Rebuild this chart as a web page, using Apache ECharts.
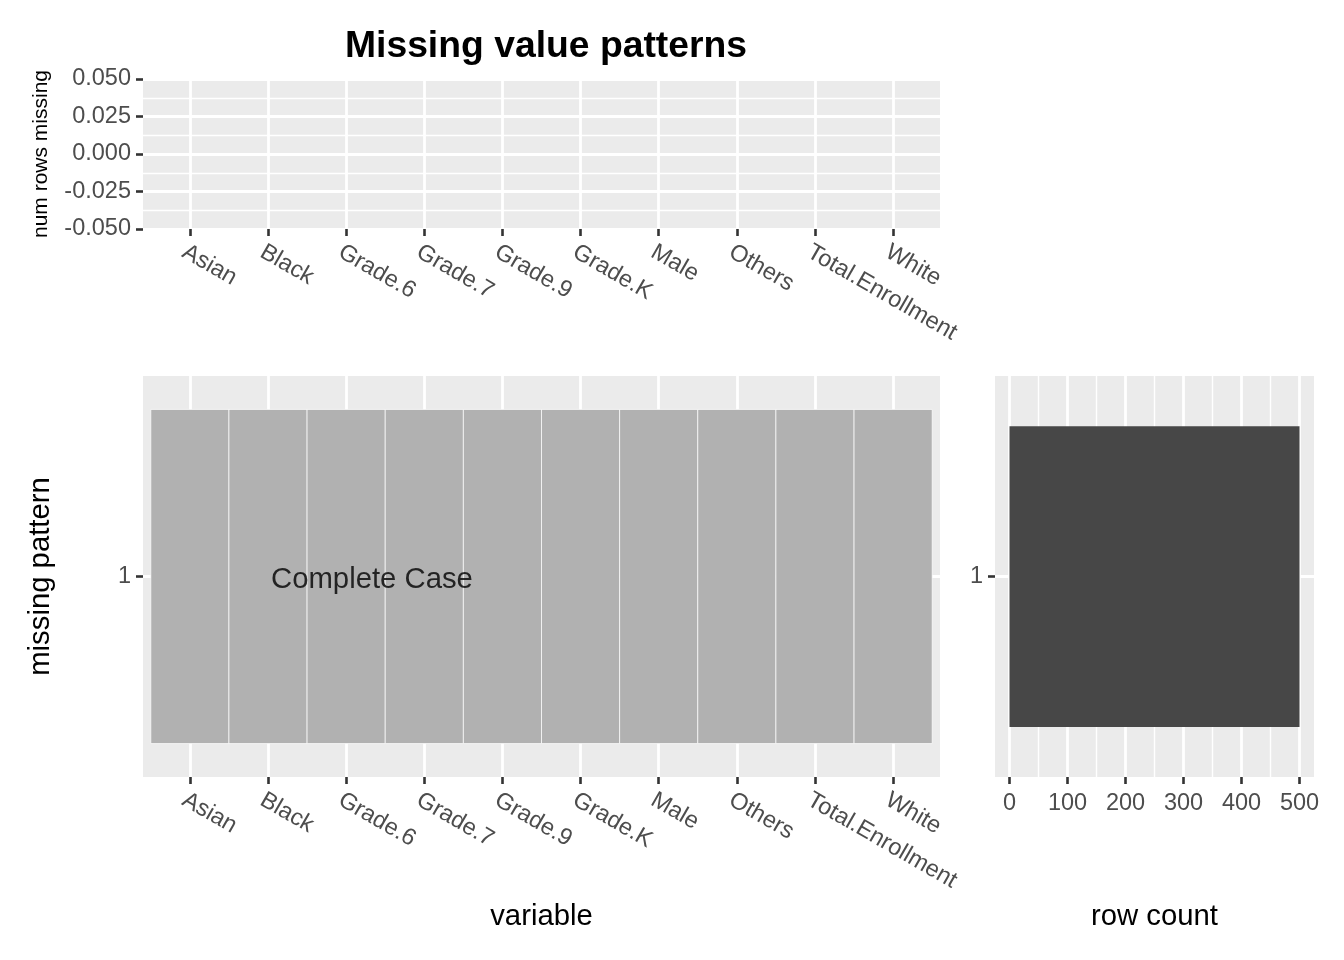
<!DOCTYPE html>
<html>
<head>
<meta charset="utf-8">
<script src="https://cdn.jsdelivr.net/npm/echarts@6/dist/echarts.min.js"></script>
<style>
html,body{margin:0;padding:0;background:#fff;}
#chart{width:1344px;height:960px;}
</style>
</head>
<body>
<div id="chart"></div>
<script>
// ---- data ----
const variables = ['Asian','Black','Grade.6','Grade.7','Grade.9','Grade.K','Male','Others','Total.Enrollment','White'];
const missingCounts = [0,0,0,0,0,0,0,0,0,0];      // num rows missing per variable
const patterns = [1];                               // missing pattern ids
const patternMissing = [[0,0,0,0,0,0,0,0,0,0]];     // 0 = observed, 1 = missing
const patternRowCounts = [500];                     // row count per pattern
const rowCountTicks = [0,100,200,300,400,500];
const patternLabel = 'Complete Case';
const patternLabelX = 3.33;

// ---- styling ----
const FONT = "'Liberation Sans', Arial, Helvetica, sans-serif";
const PANEL = '#EBEBEB';
const tickLabel = {color:'#4D4D4D', fontSize:23.5, fontFamily:FONT};
const tickStyle = {show:true, length:7, lineStyle:{color:'#333333', width:2.6}};
const gridLine = {show:true, lineStyle:{color:'#FFFFFF', width:2.8}};
const minorLine = {show:true, lineStyle:{color:'#FFFFFF', width:1.4}};
const noLine = {show:false, onZero:false};
const varPos = variables.map((v,i)=>i+1);

function catXAxis(grid, name){
  return {
    type:'value', gridIndex:grid, min:0.4, max:10.6, position:'bottom',
    axisLine:noLine,
    axisTick:Object.assign({customValues:varPos}, tickStyle),
    axisLabel:Object.assign({customValues:varPos, rotate:-30, align:'left', verticalAlign:'top', margin:11,
      formatter:(v)=>variables[Math.round(v)-1] || ''}, tickLabel),
    splitLine:gridLine, minorSplitLine:{show:false}, minorTick:{show:false},
    name:name||'', nameLocation:'middle', nameGap:125,
    nameTextStyle:{color:'#000', fontSize:29.3, fontFamily:FONT}
  };
}
function patYAxis(grid, name){
  return {
    type:'value', gridIndex:grid, min:0.4, max:1.6, position:'left',
    axisLine:noLine,
    axisTick:Object.assign({customValues:patterns}, tickStyle),
    axisLabel:Object.assign({customValues:patterns, margin:12, formatter:(v)=>String(Math.round(v))}, tickLabel),
    splitLine:gridLine, minorSplitLine:{show:false},
    name:name||'', nameLocation:'middle', nameRotate:90, nameGap:88,
    nameTextStyle:{color:'#000', fontSize:29.3, fontFamily:FONT}
  };
}

const tileData = [];
patterns.forEach((p,pi)=>{
  variables.forEach((v,vi)=>{ tileData.push([vi+1, p, patternMissing[pi][vi]]); });
});

const option = {
  animation:false,
  backgroundColor:'#FFFFFF',
  title:{text:'Missing value patterns', left:541, top:23, textAlign:'center',
    textStyle:{fontSize:37.3, fontWeight:'bold', color:'#000', fontFamily:FONT}},
  grid:[
    {left:143, top:79, width:797, height:150, show:true, backgroundColor:PANEL, borderWidth:0, containLabel:false},
    {left:143, top:376, width:797, height:401, show:true, backgroundColor:PANEL, borderWidth:0, containLabel:false},
    {left:995, top:376, width:319, height:401, show:true, backgroundColor:PANEL, borderWidth:0, containLabel:false}
  ],
  xAxis:[
    catXAxis(0),
    catXAxis(1,'variable'),
    {
      type:'value', gridIndex:2, min:-25, max:525, position:'bottom',
      axisLine:noLine,
      axisTick:Object.assign({customValues:rowCountTicks}, tickStyle),
      axisLabel:Object.assign({customValues:rowCountTicks, margin:15}, tickLabel),
      splitLine:gridLine, minorSplitLine:minorLine, minorTick:{show:false, splitNumber:2},
      name:'row count', nameLocation:'middle', nameGap:125,
      nameTextStyle:{color:'#000', fontSize:29.3, fontFamily:FONT}
    }
  ],
  yAxis:[
    {
      type:'value', gridIndex:0, min:-0.05, max:0.05, interval:0.025, position:'left',
      axisLine:noLine,
      axisTick:tickStyle,
      axisLabel:Object.assign({margin:12, formatter:(v)=>v.toFixed(3)}, tickLabel),
      splitLine:gridLine, minorSplitLine:minorLine, minorTick:{show:false, splitNumber:2},
      name:'num rows missing', nameLocation:'middle', nameRotate:90, nameGap:91,
      nameTextStyle:{color:'#000', fontSize:21, fontFamily:FONT}
    },
    patYAxis(1,'missing pattern'),
    patYAxis(2)
  ],
  series:[
    {
      type:'custom', xAxisIndex:0, yAxisIndex:0,
      data: variables.map((v,i)=>[i+1, missingCounts[i]]),
      renderItem:(params, api)=>{
        if (!api.value(1)) return null;
        const a = api.coord([api.value(0)-0.45, api.value(1)]);
        const b = api.coord([api.value(0)+0.45, 0]);
        return {type:'rect', shape:{x:a[0], y:Math.min(a[1],b[1]), width:b[0]-a[0], height:Math.abs(b[1]-a[1])},
          style:{fill:'#474747'}};
      }
    },
    {
      type:'custom', xAxisIndex:1, yAxisIndex:1,
      data: tileData,
      renderItem:(params, api)=>{
        const a = api.coord([api.value(0)-0.5, api.value(1)+0.5]);
        const b = api.coord([api.value(0)+0.5, api.value(1)-0.5]);
        return {type:'rect', shape:{x:a[0], y:a[1], width:b[0]-a[0], height:b[1]-a[1]},
          style:{fill: api.value(2) ? '#CB3D3D' : '#B1B1B1', stroke:'#FFFFFF', lineWidth:0.7, opacity:1}};
      }
    },
    {
      type:'scatter', xAxisIndex:1, yAxisIndex:1, symbolSize:0, z:10,
      data:[[patternLabelX, patterns[0]]],
      label:{show:true, position:'inside', offset:[0,3], formatter:patternLabel, color:'#000000', fontSize:29.3, fontFamily:FONT}
    },
    {
      type:'custom', xAxisIndex:2, yAxisIndex:2,
      data: patterns.map((p,i)=>[patternRowCounts[i], p]),
      renderItem:(params, api)=>{
        const a = api.coord([0, api.value(1)+0.45]);
        const b = api.coord([api.value(0), api.value(1)-0.45]);
        return {type:'rect', shape:{x:a[0], y:a[1], width:b[0]-a[0], height:b[1]-a[1]},
          style:{fill:'#474747'}};
      }
    }
  ]
};

const chart = echarts.init(document.getElementById('chart'), null, {renderer:'canvas'});
chart.setOption(option);
</script>
</body>
</html>
